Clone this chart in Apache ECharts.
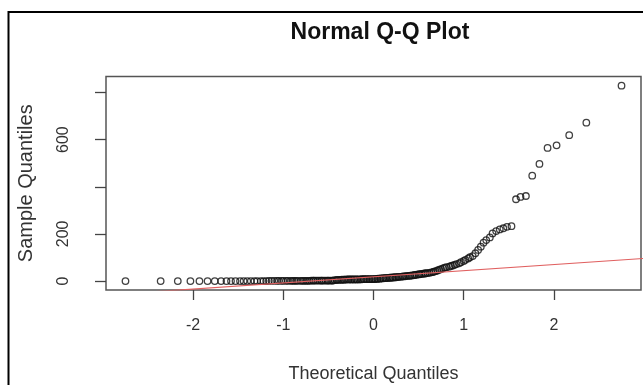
<!DOCTYPE html>
<html>
<head>
<meta charset="utf-8">
<script src="https://cdn.jsdelivr.net/npm/echarts@6/dist/echarts.min.js"></script>
<style>
  html, body { margin: 0; padding: 0; background: #fff; }
  #chart { width: 643px; height: 385px; }
</style>
</head>
<body>
<div id="chart"></div>
<script>
// theoretical quantiles (x), ascending
var theoQ = [
  -2.75, -2.36, -2.17, -2.03, -1.93, -1.84, -1.76, -1.69, -1.63, -1.58,
  -1.53, -1.48, -1.44, -1.40, -1.36, -1.32, -1.29, -1.25, -1.22, -1.19,
  -1.16, -1.13, -1.10, -1.07, -1.05, -1.02, -1.00, -0.97, -0.95, -0.92,
  -0.90, -0.88, -0.86, -0.84, -0.81, -0.79, -0.77, -0.75, -0.73, -0.71,
  -0.69, -0.67, -0.66, -0.64, -0.62, -0.60, -0.58, -0.57, -0.55, -0.53,
  -0.51, -0.50, -0.48, -0.46, -0.45, -0.43, -0.41, -0.40, -0.38, -0.36,
  -0.35, -0.33, -0.32, -0.30, -0.28, -0.27, -0.25, -0.24, -0.22, -0.21,
  -0.19, -0.18, -0.16, -0.14, -0.13, -0.11, -0.10, -0.08, -0.07, -0.05,
  -0.04, -0.02, -0.01,
  0.01, 0.02, 0.04, 0.05, 0.07, 0.08, 0.10, 0.11, 0.13, 0.14,
  0.16, 0.18, 0.19, 0.21, 0.22, 0.24, 0.25, 0.27, 0.28, 0.30,
  0.32, 0.33, 0.35, 0.36, 0.38, 0.40, 0.41, 0.43, 0.45, 0.46,
  0.48, 0.50, 0.51, 0.53, 0.55, 0.57, 0.58, 0.60, 0.62, 0.64,
  0.66, 0.67, 0.69, 0.71, 0.73, 0.75, 0.77, 0.79, 0.81, 0.84,
  0.86, 0.88, 0.90, 0.92, 0.95, 0.97, 1.00, 1.02, 1.05, 1.07,
  1.10, 1.13, 1.16, 1.19, 1.22, 1.25, 1.29, 1.32, 1.36, 1.40,
  1.44, 1.48, 1.53, 1.58, 1.63, 1.69, 1.76, 1.84, 1.93, 2.03,
  2.17, 2.36, 2.75
];

// sample quantiles (y), sorted
var sampleQ = [
  0, 0, 0, 0, 0, 0, 0, 0, 0, 0,
  0, 0, 0, 0, 0, 0, 0, 0, 0, 0,
  1, 1, 1, 1, 1, 1, 1, 1, 1, 1,
  1, 1, 1, 1, 1, 1, 1, 1, 1, 1,
  2, 2, 2, 2, 2, 2, 2, 2, 2, 2,
  2, 2, 2, 2, 2, 4, 4, 5, 5, 5,
  6, 6, 6, 7, 7, 7, 7, 7, 7, 7,
  7, 7, 7, 7, 8, 8, 8, 8, 8, 8,
  8, 8, 8,
  8, 9, 9, 10, 10, 11, 11, 12, 12, 13,
  13, 14, 14, 15, 15, 16, 16, 17, 18, 18,
  19, 20, 20, 21, 22, 22, 23, 24, 25, 26,
  27, 28, 29, 30, 31, 32, 33, 34, 35, 37,
  38, 40, 42, 45, 48, 51, 54, 57, 59, 61,
  64, 66, 69, 72, 75, 80, 85, 90, 96, 101,
  106, 118, 132, 146, 163, 174, 185, 202, 212, 219,
  224, 230, 233, 347, 357, 361, 447, 497, 565, 576,
  619, 672, 829
];

// qqline ends (data units)
var qqLine = [[-3, -60], [3, 96]];

var xTicks = [-2, -1, 0, 1, 2];
var yTicks = [0, 200, 400, 600, 800];
var yLabels = [0, 200, 600];

var points = theoQ.map(function (x, i) { return [x, sampleQ[i]]; });

var myChart = echarts.init(document.getElementById('chart'));
myChart.setOption({
  animation: false,
  backgroundColor: '#fff',
  title: {
    text: 'Normal Q-Q Plot',
    left: 375,
    top: 16,
    textAlign: 'center',
    textStyle: { fontFamily: 'Liberation Sans', fontSize: 23, fontWeight: 'bold', color: '#111' }
  },
  grid: {
    left: 106, top: 76.5, right: 2, bottom: 95,
    containLabel: false,
    outerBoundsMode: 'none',
    show: true,
    borderColor: '#555',
    borderWidth: 1.5,
    backgroundColor: 'transparent'
  },
  xAxis: {
    type: 'value',
    min: -2.966, max: 2.966,
    position: 'bottom',
    name: 'Theoretical Quantiles',
    nameLocation: 'middle',
    nameGap: 75,
    nameTextStyle: { fontFamily: 'Liberation Sans', fontSize: 18, color: '#333' },
    axisLine: { show: false, onZero: false },
    splitLine: { show: false },
    axisTick: { show: true, length: 10, customValues: xTicks, lineStyle: { color: '#444', width: 1.3 } },
    axisLabel: { customValues: xTicks, margin: 28, fontFamily: 'Liberation Sans', fontSize: 16, color: '#333' }
  },
  yAxis: {
    type: 'value',
    min: -38, max: 868,
    position: 'left',
    name: 'Sample Quantiles',
    nameLocation: 'middle',
    nameRotate: 90,
    nameGap: 70,
    nameTextStyle: { fontFamily: 'Liberation Sans', fontSize: 20, color: '#333' },
    axisLine: { show: false, onZero: false },
    splitLine: { show: false },
    axisTick: { show: true, length: 11, customValues: yTicks, lineStyle: { color: '#444', width: 1.3 } },
    axisLabel: { customValues: yLabels, rotate: 90, margin: 34, fontFamily: 'Liberation Sans', fontSize: 16, color: '#333' }
  },
  graphic: [{
    type: 'rect',
    shape: { x: 8.5, y: 12, width: 700, height: 500 },
    style: { fill: 'none', stroke: '#000', lineWidth: 2 },
    silent: true
  }],
  series: [
    {
      name: 'sample',
      type: 'scatter',
      data: points,
      symbol: 'circle',
      symbolSize: 6.5,
      itemStyle: { color: 'rgba(0,0,0,0)', borderColor: '#111', borderWidth: 1.3 },
      z: 2
    },
    {
      name: 'qqline',
      type: 'line',
      data: qqLine,
      showSymbol: false,
      clip: true,
      lineStyle: { color: '#e06060', width: 1.2 },
      z: 3
    }
  ]
});
</script>
</body>
</html>
